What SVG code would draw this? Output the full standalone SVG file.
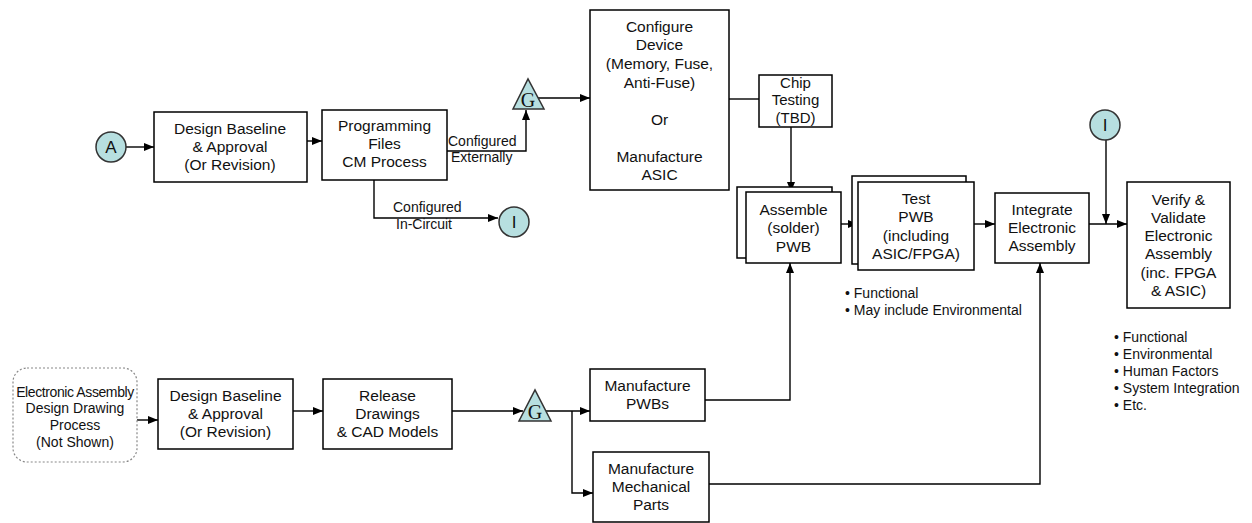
<svg xmlns="http://www.w3.org/2000/svg" width="1252" height="523" viewBox="0 0 1252 523">
<defs>
<marker id="arr" markerWidth="10" markerHeight="8" refX="10" refY="4" orient="auto" markerUnits="userSpaceOnUse">
<path d="M0,0 L10,4 L0,8 z" fill="#000"/>
</marker>
<style>
.box{fill:#fff;stroke:#000;stroke-width:1.5}
.t{font-family:"Liberation Sans",Arial,sans-serif;font-size:15.5px;fill:#111;text-anchor:middle}
.s{font-family:"Liberation Sans",Arial,sans-serif;font-size:14px;fill:#111}
.c{fill:#b7dfe0;stroke:#333;stroke-width:1.5}
.g{font-family:"Liberation Serif","Times New Roman",serif;font-size:20px;fill:#111;text-anchor:middle}
.ln{fill:none;stroke:#000;stroke-width:1.4}
.ar{marker-end:url(#arr)}
</style>
</defs>
<rect width="1252" height="523" fill="#fff"/>

<g id="connectors">
<path class="ln ar" d="M126 147 H154"/>
<path class="ln ar" d="M307 141 H322"/>
<path class="ln ar" d="M443 151 H526 V110"/>
<path class="ln ar" d="M374 180 V218 H498"/>
<path class="ln ar" d="M538 98 H590"/>
<path class="ln" d="M727 99 H759"/>
<path class="ln ar" d="M791 127 V192"/>
<path class="ln ar" d="M841 224 H858"/>
<path class="ln ar" d="M974 224 H995"/>
<path class="ln ar" d="M1089 224 H1127"/>
<path class="ln ar" d="M1106 140 V224"/>
<path class="ln ar" d="M137 420 H158"/>
<path class="ln ar" d="M293 411 H323"/>
<path class="ln ar" d="M452 411 H523"/>
<path class="ln ar" d="M546 411 H590"/>
<path class="ln ar" d="M572 411 V493 H593"/>
<path class="ln ar" d="M705 400 H790 V263"/>
<path class="ln ar" d="M709 484 H1040 V263"/>
<text class="s" x="448" y="146">Configured</text>
<text class="s" x="451" y="162">Externally</text>
<text class="s" x="393" y="212">Configured</text>
<text class="s" x="396" y="229">In-Circuit</text>
</g>

<g id="A">
<circle class="c" cx="111" cy="147" r="15"/>
<text class="t" x="111" y="153" style="font-size:17px">A</text>
</g>

<g id="design-baseline-1">
<rect class="box" x="154" y="112" width="153" height="70"/>
<text class="t" x="230" y="134">Design Baseline</text>
<text class="t" x="230" y="152">&amp; Approval</text>
<text class="t" x="230" y="170">(Or Revision)</text>
</g>

<g id="programming-files">
<rect class="box" x="322" y="110" width="125" height="70"/>
<text class="t" x="384.5" y="131">Programming</text>
<text class="t" x="384.5" y="149">Files</text>
<text class="t" x="384.5" y="167">CM Process</text>
</g>

<g id="I1">
<circle class="c" cx="514" cy="222" r="15"/>
<text class="t" x="514" y="228" style="font-size:17px">I</text>
</g>

<g id="G1">
<polygon class="c" points="513,109 544,109 528,79"/>
<text class="g" x="528" y="107">G</text>
</g>

<g id="configure-device">
<rect class="box" x="590" y="10" width="139" height="180"/>
<text class="t" x="659.5" y="31.5">Configure</text>
<text class="t" x="659.5" y="49.5">Device</text>
<text class="t" x="659.5" y="68.5">(Memory, Fuse,</text>
<text class="t" x="659.5" y="87.5">Anti-Fuse)</text>
<text class="t" x="659.5" y="124.5">Or</text>
<text class="t" x="659.5" y="161.5">Manufacture</text>
<text class="t" x="659.5" y="179.5">ASIC</text>
</g>

<g id="chip-testing">
<rect class="box" x="759" y="75" width="73" height="52"/>
<text class="t" x="795.5" y="88" style="font-size:15px">Chip</text>
<text class="t" x="795.5" y="105" style="font-size:15px">Testing</text>
<text class="t" x="795.5" y="123" style="font-size:15px">(TBD)</text>
</g>

<g id="assemble">
<rect class="box" x="737" y="187" width="95" height="71"/>
<rect class="box" x="746" y="192" width="95" height="71"/>
<text class="t" x="793.5" y="214.5">Assemble</text>
<text class="t" x="793.5" y="233">(solder)</text>
<text class="t" x="793.5" y="251.5">PWB</text>
</g>

<g id="test-pwb">
<rect class="box" x="852" y="176" width="114" height="88"/>
<rect class="box" x="858" y="182" width="116" height="88"/>
<text class="t" x="916" y="203.5">Test</text>
<text class="t" x="916" y="222">PWB</text>
<text class="t" x="916" y="240.5">(including</text>
<text class="t" x="916" y="259">ASIC/FPGA)</text>
</g>

<g id="test-notes">
<text class="s" x="845" y="298">• Functional</text>
<text class="s" x="845" y="315">• May include Environmental</text>
</g>

<g id="integrate">
<rect class="box" x="995" y="193" width="94" height="70"/>
<text class="t" x="1042" y="214.5">Integrate</text>
<text class="t" x="1042" y="232.5">Electronic</text>
<text class="t" x="1042" y="250.5">Assembly</text>
</g>

<g id="I2">
<circle class="c" cx="1105" cy="125" r="15"/>
<text class="t" x="1105" y="131" style="font-size:17px">I</text>
</g>

<g id="verify">
<rect class="box" x="1127" y="182" width="103" height="126"/>
<text class="t" x="1178.5" y="205">Verify &amp;</text>
<text class="t" x="1178.5" y="223">Validate</text>
<text class="t" x="1178.5" y="241">Electronic</text>
<text class="t" x="1178.5" y="259">Assembly</text>
<text class="t" x="1178.5" y="277.5">(inc. FPGA</text>
<text class="t" x="1178.5" y="296">&amp; ASIC)</text>
</g>

<g id="verify-notes">
<text class="s" x="1114" y="342">• Functional</text>
<text class="s" x="1114" y="359">• Environmental</text>
<text class="s" x="1114" y="376">• Human Factors</text>
<text class="s" x="1114" y="393">• System Integration</text>
<text class="s" x="1114" y="410">• Etc.</text>
</g>

<g id="drawing-process">
<rect x="13" y="368" width="124" height="94" rx="14" fill="#fff" stroke="#888" stroke-width="1.2" stroke-dasharray="2 2"/>
<text class="t" x="75" y="397" style="font-size:14px;letter-spacing:-0.4px">Electronic Assembly</text>
<text class="t" x="75" y="413" style="font-size:14px">Design Drawing</text>
<text class="t" x="75" y="430" style="font-size:14px">Process</text>
<text class="t" x="75" y="447" style="font-size:14px">(Not Shown)</text>
</g>

<g id="design-baseline-2">
<rect class="box" x="158" y="379" width="135" height="70"/>
<text class="t" x="225.5" y="401">Design Baseline</text>
<text class="t" x="225.5" y="419">&amp; Approval</text>
<text class="t" x="225.5" y="437">(Or Revision)</text>
</g>

<g id="release-drawings">
<rect class="box" x="323" y="379" width="129" height="70"/>
<text class="t" x="387.5" y="401">Release</text>
<text class="t" x="387.5" y="419">Drawings</text>
<text class="t" x="387.5" y="437">&amp; CAD Models</text>
</g>

<g id="G2">
<polygon class="c" points="519,421 551,421 535,390"/>
<text class="g" x="535" y="419">G</text>
</g>

<g id="manufacture-pwbs">
<rect class="box" x="590" y="369" width="115" height="52"/>
<text class="t" x="647.5" y="390.5">Manufacture</text>
<text class="t" x="647.5" y="408.5">PWBs</text>
</g>

<g id="manufacture-mech">
<rect class="box" x="593" y="452" width="116" height="70"/>
<text class="t" x="651" y="473.5">Manufacture</text>
<text class="t" x="651" y="491.5">Mechanical</text>
<text class="t" x="651" y="509.5">Parts</text>
</g>
</svg>
